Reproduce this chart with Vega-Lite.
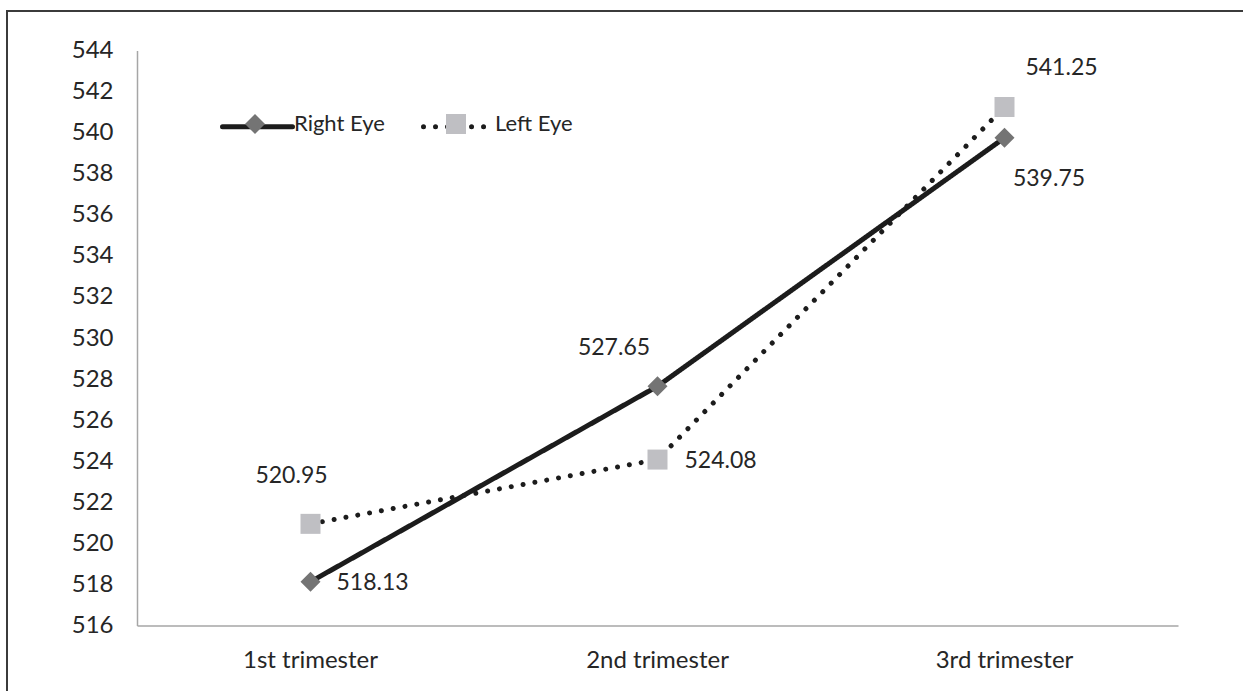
{
  "$schema": "https://vega.github.io/schema/vega-lite/v6.json",
  "autosize": {"type": "none"},
  "padding": {"left": 7, "top": 11, "right": 0, "bottom": 0},
  "width": 1240,
  "height": 684,
  "background": "#ffffff",
  "config": {
    "view": {"stroke": "#3b3b3b", "strokeWidth": 2},
    "font": "Lato",
    "axis": {
      "domainColor": "#a6a6a6",
      "domainWidth": 1.5,
      "ticks": false,
      "tickSize": 0,
      "grid": false,
      "labelFont": "Lato",
      "labelFontSize": 24,
      "labelColor": "#262626",
      "title": null
    },
    "legend": {"labelFont": "Lato", "labelFontSize": 22, "labelColor": "#262626", "padding": 0}
  },
  "data": {
    "values": [
      {"stage": "1st trimester", "eye": "Right Eye", "value": 518.13},
      {"stage": "2nd trimester", "eye": "Right Eye", "value": 527.65},
      {"stage": "3rd trimester", "eye": "Right Eye", "value": 539.75},
      {"stage": "1st trimester", "eye": "Left Eye", "value": 520.95},
      {"stage": "2nd trimester", "eye": "Left Eye", "value": 524.08},
      {"stage": "3rd trimester", "eye": "Left Eye", "value": 541.25}
    ]
  },
  "encoding": {
    "x": {
      "field": "stage",
      "type": "nominal",
      "sort": ["1st trimester", "2nd trimester", "3rd trimester"],
      "scale": {"type": "band", "range": [130, 1171], "paddingInner": 0, "paddingOuter": 0},
      "axis": {"orient": "bottom", "offset": -69.5, "labelAngle": 0, "labelPadding": 23}
    },
    "y": {
      "field": "value",
      "type": "quantitative",
      "scale": {"domain": [516, 544], "range": [614.5, 39.5], "nice": false, "zero": false},
      "axis": {
        "orient": "left",
        "offset": -130,
        "labelPadding": 24,
        "values": [516, 518, 520, 522, 524, 526, 528, 530, 532, 534, 536, 538, 540, 542, 544]
      }
    }
  },
  "layer": [
    {
      "mark": {"type": "line", "stroke": "#1c1c1c", "strokeWidth": 5, "strokeCap": "round"},
      "encoding": {
        "strokeDash": {
          "field": "eye",
          "type": "nominal",
          "sort": "descending",
          "scale": {"range": [[1, 0], [0.01, 12]]},
          "legend": {
            "title": null,
            "orient": "none",
            "direction": "horizontal",
            "legendX": 213,
            "legendY": 78,
            "symbolType": "stroke",
            "symbolSize": 4900,
            "symbolStrokeWidth": 5,
            "symbolStrokeColor": "#1c1c1c",
            "labelExpr": "''",
            "labelOffset": 0,
            "columnPadding": 110,
            "encode": {"symbols": {"update": {"strokeCap": {"value": "round"}}}}
          }
        }
      }
    },
    {
      "transform": [{"calculate": "datum.eye", "as": "marker"}],
      "mark": {"type": "point", "filled": true, "size": 400, "opacity": 1},
      "encoding": {
        "shape": {
          "field": "marker",
          "type": "nominal",
          "sort": "descending",
          "scale": {"range": ["diamond", "square"]},
          "legend": {
            "title": null,
            "orient": "none",
            "direction": "horizontal",
            "legendX": 237,
            "legendY": 102,
            "symbolSize": 400,
            "symbolStrokeWidth": 0,
            "labelOffset": 28,
            "columnPadding": 60
          }
        },
        "color": {
          "field": "marker",
          "type": "nominal",
          "sort": "descending",
          "scale": {"range": ["#747474", "#bfbfc3"]},
          "legend": {
            "title": null,
            "orient": "none",
            "direction": "horizontal",
            "legendX": 237,
            "legendY": 102,
            "symbolSize": 400,
            "symbolStrokeWidth": 0,
            "labelOffset": 28,
            "columnPadding": 60
          }
        }
      }
    },
    {
      "transform": [{"filter": "datum.eye === 'Left Eye' && datum.stage === '1st trimester'"}],
      "mark": {"type": "text", "fontSize": 23, "font": "Lato", "color": "#262626", "align": "center", "baseline": "middle", "dx": -19, "dy": -48},
      "encoding": {"text": {"field": "value", "type": "quantitative", "format": ".2f"}}
    },
    {
      "transform": [{"filter": "datum.eye === 'Right Eye' && datum.stage === '1st trimester'"}],
      "mark": {"type": "text", "fontSize": 23, "font": "Lato", "color": "#262626", "align": "left", "baseline": "middle", "dx": 26, "dy": 1},
      "encoding": {"text": {"field": "value", "type": "quantitative", "format": ".2f"}}
    },
    {
      "transform": [{"filter": "datum.eye === 'Right Eye' && datum.stage === '2nd trimester'"}],
      "mark": {"type": "text", "fontSize": 23, "font": "Lato", "color": "#262626", "align": "center", "baseline": "middle", "dx": -43.5, "dy": -38},
      "encoding": {"text": {"field": "value", "type": "quantitative", "format": ".2f"}}
    },
    {
      "transform": [{"filter": "datum.eye === 'Left Eye' && datum.stage === '2nd trimester'"}],
      "mark": {"type": "text", "fontSize": 23, "font": "Lato", "color": "#262626", "align": "left", "baseline": "middle", "dx": 27, "dy": 1},
      "encoding": {"text": {"field": "value", "type": "quantitative", "format": ".2f"}}
    },
    {
      "transform": [{"filter": "datum.eye === 'Left Eye' && datum.stage === '3rd trimester'"}],
      "mark": {"type": "text", "fontSize": 23, "font": "Lato", "color": "#262626", "align": "center", "baseline": "middle", "dx": 57, "dy": -39},
      "encoding": {"text": {"field": "value", "type": "quantitative", "format": ".2f"}}
    },
    {
      "transform": [{"filter": "datum.eye === 'Right Eye' && datum.stage === '3rd trimester'"}],
      "mark": {"type": "text", "fontSize": 23, "font": "Lato", "color": "#262626", "align": "center", "baseline": "middle", "dx": 44.5, "dy": 41},
      "encoding": {"text": {"field": "value", "type": "quantitative", "format": ".2f"}}
    }
  ]
}
